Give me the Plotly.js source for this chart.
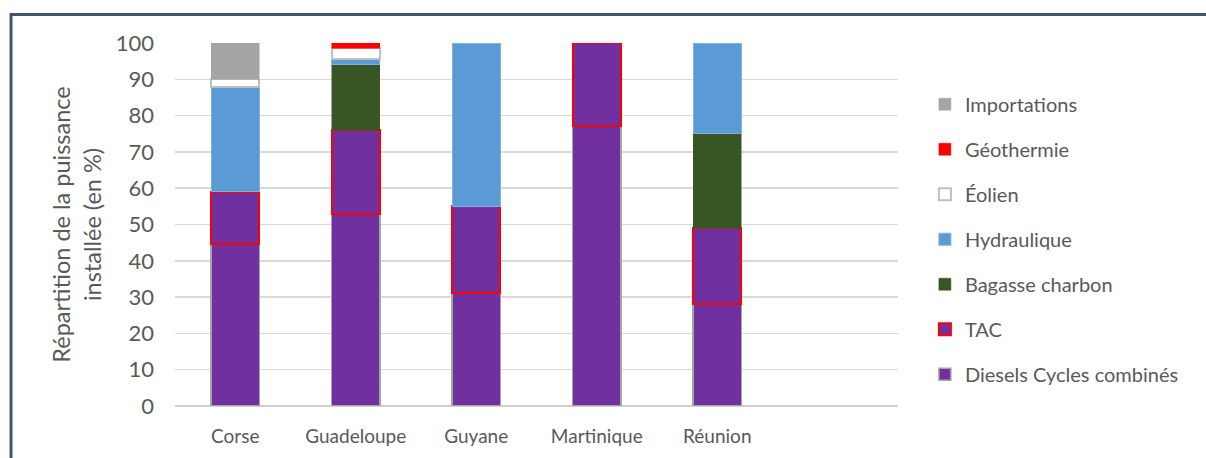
<!DOCTYPE html>
<html>
<head>
<meta charset="utf-8">
<script src="https://cdn.plot.ly/plotly-3.0.1.min.js"></script>
<style>
html,body{margin:0;padding:0;background:#fff;}
#chart{width:1206px;height:458px;}
</style>
</head>
<body>
<div id="chart"></div>
<script>
const categories = ['Corse', 'Guadeloupe', 'Guyane', 'Martinique', 'Réunion'];
const diesels = [44.5, 53, 31, 77, 28];
const tac = [14.5, 23, 24, 23, 21];
const bagasse = [null, 18, null, null, 26];
const hydraulique = [29, 1.5, 45, null, 25];
const eolien = [2, 3, null, null, null];
const geothermie = [null, 1.5, null, null, null];
const importations = [10, null, null, null, null];
const yTicks = [0, 10, 20, 30, 40, 50, 60, 70, 80, 90, 100];

const W = 0.4;
function bar(name, y, fill, lineColor, lineWidth, rank) {
  return {
    type: 'bar', name: name, x: categories, y: y, width: W,
    legendgroup: name, legendrank: rank,
    marker: {color: fill, line: {color: lineColor, width: lineWidth}},
    hoverinfo: 'name+y'
  };
}

const data = [
  bar('Diesels Cycles combinés', diesels, '#7030A0', '#A5A5A5', 1.5, 7),
  bar('TAC', tac, '#7030A0', '#FF0000', 2, 6),
  bar('Bagasse charbon', bagasse, '#375623', '#375623', 0.5, 5),
  bar('Hydraulique', hydraulique, '#5B9BD5', '#7FB0DE', 1, 4),
  bar('Éolien', eolien, '#FFFFFF', '#BFBFBF', 2, 3),
  bar('Géothermie', geothermie, '#FF0000', '#FF0000', 0.5, 2),
  bar('Importations', importations, '#A5A5A5', '#A5A5A5', 0.5, 1)
];

const fontFam = 'Lato, "Open Sans", sans-serif';
const layout = {
  width: 1206, height: 458,
  margin: {l: 175, r: 308, t: 43, b: 52},
  paper_bgcolor: '#fff', plot_bgcolor: '#fff',
  barmode: 'stack',
  font: {family: fontFam, size: 20, color: '#595959'},
  showlegend: true,
  legend: {
    x: 1.0372, y: 0.885, xanchor: 'left', yanchor: 'top',
    traceorder: 'grouped',
    tracegroupgap: 16,
    font: {family: fontFam, size: 20, color: '#595959'},
    itemwidth: 30
  },
  xaxis: {
    type: 'category',
    range: [-0.5, 5.5],
    showgrid: false, zeroline: false,
    showline: false,
    ticks: '',
    ticklabelstandoff: 17,
    tickfont: {family: fontFam, size: 19, color: '#595959'}
  },
  yaxis: {
    range: [0, 100],
    tickvals: yTicks,
    ticktext: yTicks.map(String),
    showgrid: true, gridcolor: '#D9D9D9', gridwidth: 1.5,
    zeroline: true, zerolinecolor: '#D0D0D0', zerolinewidth: 1.5,
    ticks: '',
    ticklabelstandoff: 20,
    tickfont: {family: fontFam, size: 22, color: '#595959'},
    title: {
      text: 'Répartition de la puissance<br>installée (en %)',
      font: {family: fontFam, size: 23.5, color: '#595959'},
      standoff: 7
    }
  },
  shapes: [{
    type: 'rect', xref: 'paper', yref: 'paper',
    x0: -0.2268, x1: 1.46, y0: -0.2, y1: 1.0785,
    line: {color: '#44546A', width: 3},
    fillcolor: 'rgba(0,0,0,0)', layer: 'below'
  }]
};

Plotly.newPlot('chart', data, layout, {staticPlot: true, displayModeBar: false});
</script>
</body>
</html>
